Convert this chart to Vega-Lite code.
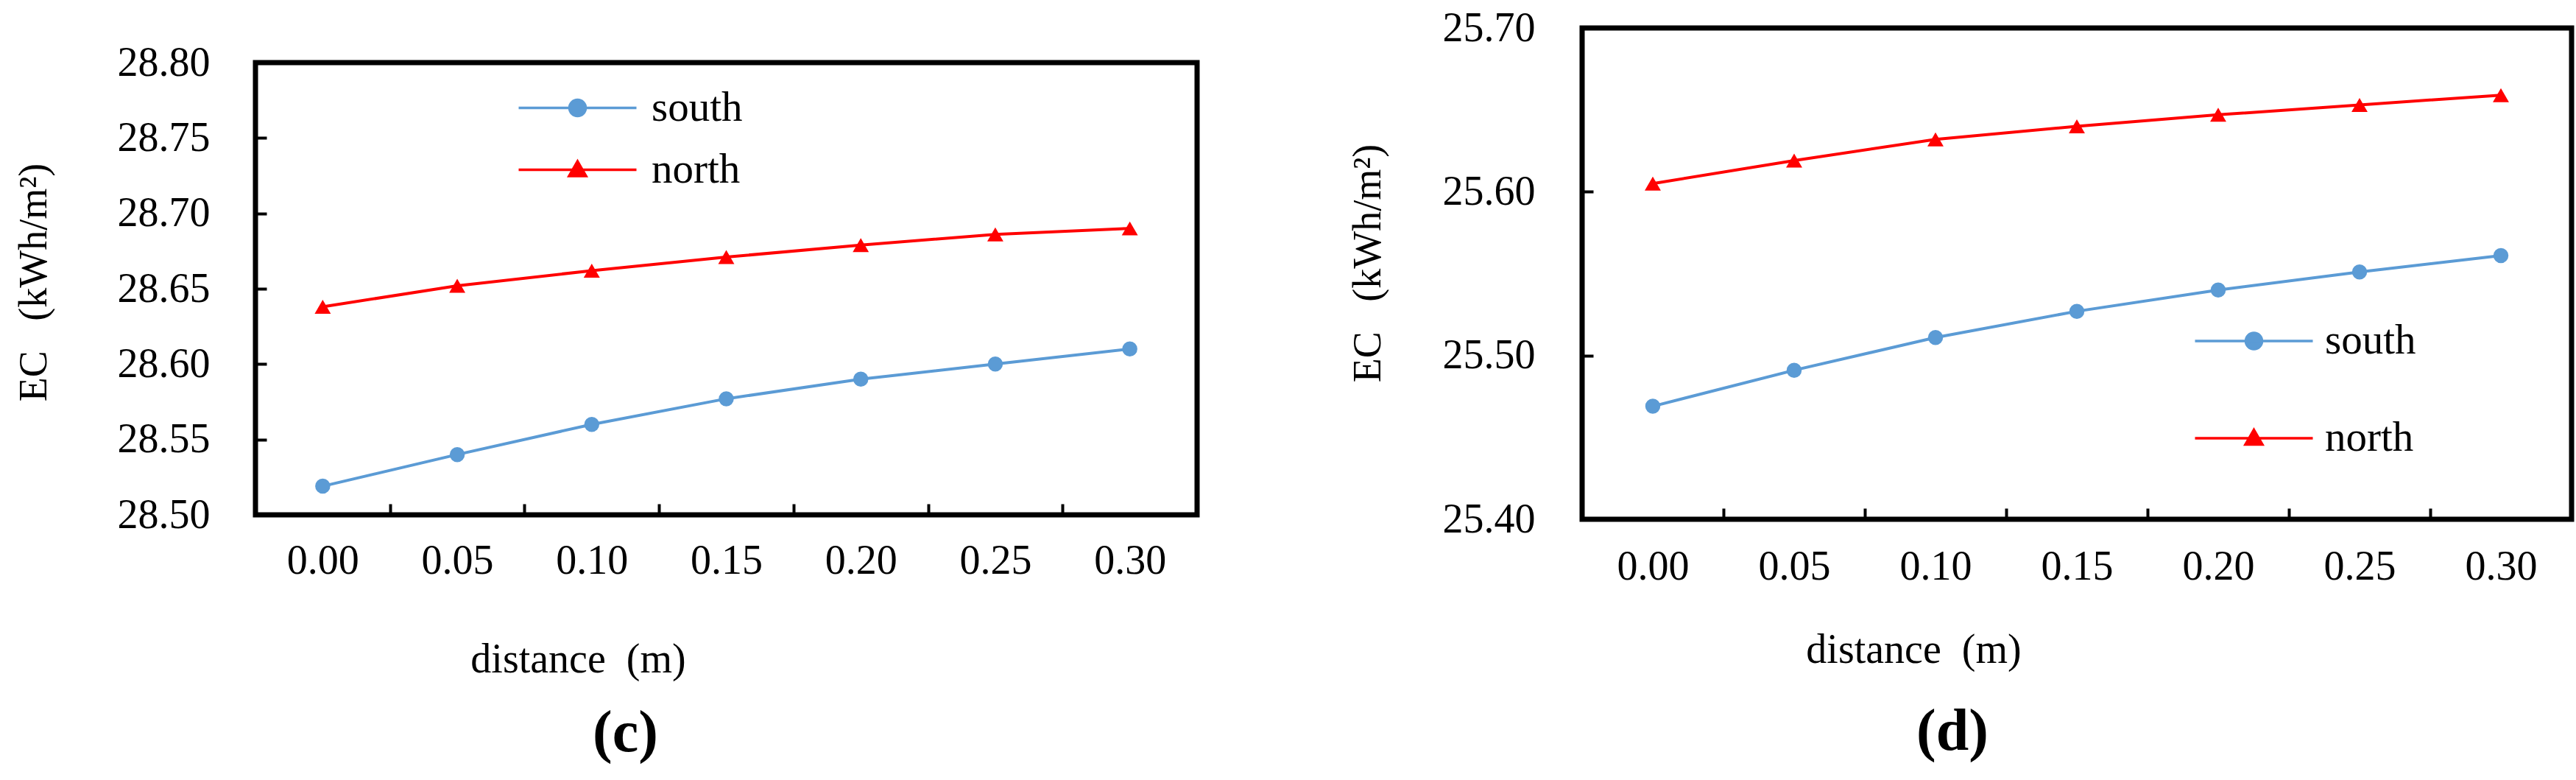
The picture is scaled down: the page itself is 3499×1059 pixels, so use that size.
{
  "$schema": "https://vega.github.io/schema/vega-lite/v6.json",
  "background": "white",
  "padding": {"left": 15, "top": 6, "right": 0, "bottom": 0},
  "config": {
    "view": {"stroke": "black", "strokeWidth": 7, "fill": "white"},
    "font": "Liberation Serif",
    "axis": {
      "grid": false,
      "domain": false,
      "tickColor": "black",
      "tickWidth": 4,
      "tickSize": -15,
      "labelFont": "Liberation Serif",
      "labelFontSize": 56,
      "labelColor": "black",
      "titleFont": "Liberation Serif",
      "titleFontSize": 54,
      "titleFontWeight": "normal",
      "titleColor": "black"
    }
  },
  "datasets": {
    "c": [
      {"distance": "0.00", "series": "south", "ec": 28.519},
      {"distance": "0.05", "series": "south", "ec": 28.540},
      {"distance": "0.10", "series": "south", "ec": 28.560},
      {"distance": "0.15", "series": "south", "ec": 28.577},
      {"distance": "0.20", "series": "south", "ec": 28.590},
      {"distance": "0.25", "series": "south", "ec": 28.600},
      {"distance": "0.30", "series": "south", "ec": 28.610},
      {"distance": "0.00", "series": "north", "ec": 28.638},
      {"distance": "0.05", "series": "north", "ec": 28.652},
      {"distance": "0.10", "series": "north", "ec": 28.662},
      {"distance": "0.15", "series": "north", "ec": 28.671},
      {"distance": "0.20", "series": "north", "ec": 28.679},
      {"distance": "0.25", "series": "north", "ec": 28.686},
      {"distance": "0.30", "series": "north", "ec": 28.690}
    ],
    "d": [
      {"distance": "0.00", "series": "south", "ec": 25.469},
      {"distance": "0.05", "series": "south", "ec": 25.491},
      {"distance": "0.10", "series": "south", "ec": 25.511},
      {"distance": "0.15", "series": "south", "ec": 25.527},
      {"distance": "0.20", "series": "south", "ec": 25.540},
      {"distance": "0.25", "series": "south", "ec": 25.551},
      {"distance": "0.30", "series": "south", "ec": 25.561},
      {"distance": "0.00", "series": "north", "ec": 25.605},
      {"distance": "0.05", "series": "north", "ec": 25.619},
      {"distance": "0.10", "series": "north", "ec": 25.632},
      {"distance": "0.15", "series": "north", "ec": 25.640},
      {"distance": "0.20", "series": "north", "ec": 25.647},
      {"distance": "0.25", "series": "north", "ec": 25.653},
      {"distance": "0.30", "series": "north", "ec": 25.659}
    ]
  },
  "spacing": 195,
  "resolve": {"scale": {"color": "independent"}, "legend": {"color": "independent"}},
  "hconcat": [
    {
      "spacing": 14,
      "vconcat": [
        {
          "width": 1,
          "height": 1,
          "data": {"values": []},
          "view": {"stroke": null, "fill": null},
          "mark": "point"
        },
        {
          "width": 1279,
          "height": 614,
          "data": {"name": "c"},
          "title": {"text": "(c)", "orient": "bottom", "frame": "group", "anchor": "middle", "dx": -137, "offset": 34, "baseline": "top", "font": "Liberation Serif", "fontSize": 80, "fontWeight": "bold", "color": "black"},
          "layer": [
            {
              "mark": {"type": "line", "strokeWidth": 4},
              "encoding": {
                "x": {"field": "distance", "type": "ordinal", "scale": {"type": "band", "paddingInner": 0, "paddingOuter": 0},
                  "axis": {"orient": "bottom", "tickBand": "extent", "labelAngle": 0, "labelBaseline": "top", "labelPadding": 50, "title": "distance\u00a0\u00a0(m)", "titleX": 438, "titleY": 213, "titleAlign": "center", "titleBaseline": "alphabetic", "titleFontSize": 56}},
                "y": {"field": "ec", "type": "quantitative", "scale": {"domain": [28.5, 28.8], "nice": false, "zero": false},
                  "axis": {"values": [28.5, 28.55, 28.6, 28.65, 28.7, 28.75, 28.8], "format": ".2f", "labelPadding": 77, "title": "EC\u00a0\u00a0\u00a0(kWh/m²)", "titlePadding": 86, "titleY": 298}},
                "color": {"field": "series", "type": "nominal", "scale": {"domain": ["south", "north"], "range": ["#5B9BD5", "#FF0000"]},
                  "legend": {"orient": "none", "legendX": 409, "legendY": 80, "title": null, "padding": 0, "symbolSize": 400, "symbolStrokeWidth": 3.5, "labelFont": "Liberation Serif", "labelFontSize": 57, "labelColor": "black", "labelOffset": 72, "rowPadding": 26, "labelLimit": 600,
                    "encode": {"symbols": {"update": {
                      "shape": {"signal": "datum.value === 'south' ? 'M-8,0H8M1.1,0A1.1,1.1 0 1,1 -1.1,0A1.1,1.1 0 1,1 1.1,0Z' : 'M-8,0H8M0,-1.15L1.15,0.85H-1.15Z'"},
                      "fill": {"signal": "datum.value === 'south' ? '#5B9BD5' : '#FF0000'"},
                      "stroke": {"signal": "datum.value === 'south' ? '#5B9BD5' : '#FF0000'"},
                      "strokeWidth": {"value": 3.5},
                      "opacity": {"value": 1},
                      "size": {"value": 400}}}}}}
              }
            },
            {
              "transform": [{"filter": "datum.series === 'south'"}],
              "mark": {"type": "point", "shape": "circle", "filled": true, "size": 420, "color": "#5B9BD5", "opacity": 1},
              "encoding": {
                "x": {"field": "distance", "type": "ordinal", "scale": {"type": "band", "paddingInner": 0, "paddingOuter": 0}},
                "y": {"field": "ec", "type": "quantitative", "scale": {"domain": [28.5, 28.8], "nice": false, "zero": false}}
              }
            },
            {
              "transform": [{"filter": "datum.series === 'north'"}],
              "mark": {"type": "point", "shape": "triangle-up", "filled": true, "size": 480, "color": "#FF0000", "opacity": 1},
              "encoding": {
                "x": {"field": "distance", "type": "ordinal", "scale": {"type": "band", "paddingInner": 0, "paddingOuter": 0}},
                "y": {"field": "ec", "type": "quantitative", "scale": {"domain": [28.5, 28.8], "nice": false, "zero": false}}
              }
            }
          ]
        }
      ]
    },
    {
      "width": 1344,
      "height": 667,
      "data": {"name": "d"},
      "title": {"text": "(d)", "orient": "bottom", "frame": "group", "anchor": "middle", "dx": -169, "offset": 45, "baseline": "top", "font": "Liberation Serif", "fontSize": 80, "fontWeight": "bold", "color": "black"},
      "layer": [
        {
          "mark": {"type": "line", "strokeWidth": 4},
          "encoding": {
            "x": {"field": "distance", "type": "ordinal", "scale": {"type": "band", "paddingInner": 0, "paddingOuter": 0},
              "axis": {"orient": "bottom", "tickBand": "extent", "labelAngle": 0, "labelBaseline": "top", "labelPadding": 52, "title": "distance\u00a0\u00a0(m)", "titleX": 450, "titleY": 194, "titleAlign": "center", "titleBaseline": "alphabetic", "titleFontSize": 56}},
            "y": {"field": "ec", "type": "quantitative", "scale": {"domain": [25.4, 25.7], "nice": false, "zero": false},
              "axis": {"values": [25.4, 25.5, 25.6, 25.7], "format": ".2f", "labelPadding": 79, "title": "EC\u00a0\u00a0\u00a0(kWh/m²)", "titlePadding": 74, "titleY": 319}},
            "color": {"field": "series", "type": "nominal", "scale": {"domain": ["south", "north"], "range": ["#5B9BD5", "#FF0000"]},
              "legend": {"orient": "none", "legendX": 884, "legendY": 396.5, "title": null, "padding": 0, "symbolSize": 400, "symbolStrokeWidth": 3.5, "labelFont": "Liberation Serif", "labelFontSize": 57, "labelColor": "black", "labelOffset": 68, "rowPadding": 74, "labelLimit": 600,
                "encode": {"symbols": {"update": {
                  "shape": {"signal": "datum.value === 'south' ? 'M-8,0H8M1.1,0A1.1,1.1 0 1,1 -1.1,0A1.1,1.1 0 1,1 1.1,0Z' : 'M-8,0H8M0,-1.15L1.15,0.85H-1.15Z'"},
                  "fill": {"signal": "datum.value === 'south' ? '#5B9BD5' : '#FF0000'"},
                  "stroke": {"signal": "datum.value === 'south' ? '#5B9BD5' : '#FF0000'"},
                  "strokeWidth": {"value": 3.5},
                  "opacity": {"value": 1},
                  "size": {"value": 400}}}}}}
          }
        },
        {
          "transform": [{"filter": "datum.series === 'south'"}],
          "mark": {"type": "point", "shape": "circle", "filled": true, "size": 420, "color": "#5B9BD5", "opacity": 1},
          "encoding": {
            "x": {"field": "distance", "type": "ordinal", "scale": {"type": "band", "paddingInner": 0, "paddingOuter": 0}},
            "y": {"field": "ec", "type": "quantitative", "scale": {"domain": [25.4, 25.7], "nice": false, "zero": false}}
          }
        },
        {
          "transform": [{"filter": "datum.series === 'north'"}],
          "mark": {"type": "point", "shape": "triangle-up", "filled": true, "size": 480, "color": "#FF0000", "opacity": 1},
          "encoding": {
            "x": {"field": "distance", "type": "ordinal", "scale": {"type": "band", "paddingInner": 0, "paddingOuter": 0}},
            "y": {"field": "ec", "type": "quantitative", "scale": {"domain": [25.4, 25.7], "nice": false, "zero": false}}
          }
        }
      ]
    }
  ]
}
